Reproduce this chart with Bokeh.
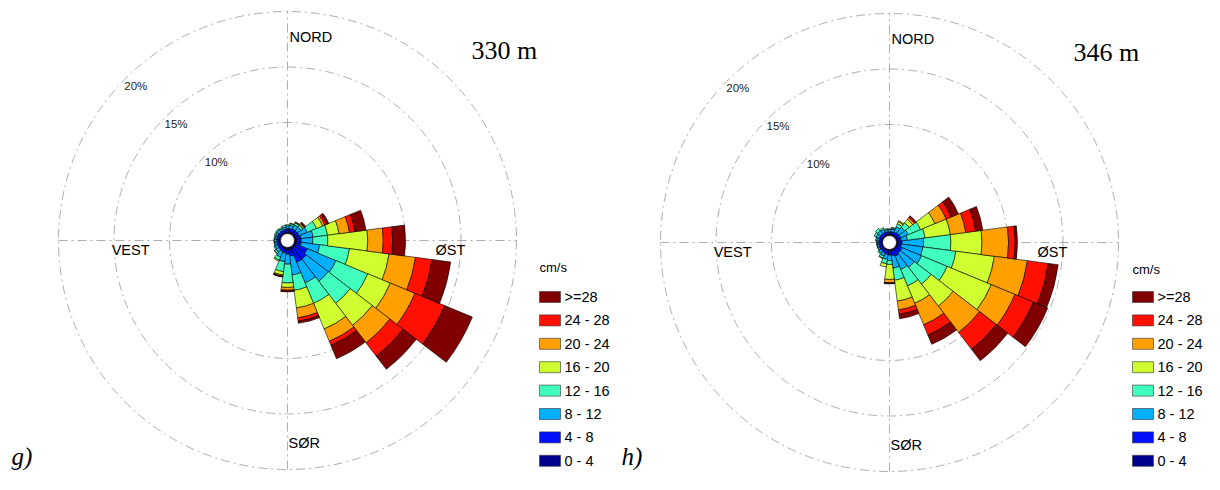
import numpy as np
from bokeh.plotting import figure
from bokeh.models import Range1d
from bokeh.embed import file_html
from bokeh.resources import INLINE
from bokeh.core.properties import value

# ---------------- data ----------------
directions = list(range(0, 360, 15))  # compass bearing of each sector (deg)
speed_classes = ["0 - 4", "4 - 8", "8 - 12", "12 - 16", "16 - 20", "20 - 24", "24 - 28", ">=28"]
class_colors = ["#00008F", "#0010FF", "#00AFFF", "#40FFBF", "#CFFF30", "#FF9F00", "#FF1000", "#800000"]
ring_pcts = [10, 15, 20]
ring_labels = ["10%", "15%", "20%"]
compass_names = ["NORD", "ØST", "SØR", "VEST"]

# g) 330 m : frequency (%) per speed class for each direction (0,15,...,345)
g_0_4 = [0.15, 0.15, 0.20, 0.20, 0.20, 0.20, 0.20, 0.20, 0.20, 0.25, 0.25, 0.25,
         0.20, 0.20, 0.15, 0.15, 0.12, 0.12, 0.12, 0.12, 0.12, 0.12, 0.12, 0.12]
g_4_8 = [0.30, 0.30, 0.30, 0.30, 0.30, 0.40, 0.40, 0.40, 1.10, 1.25, 1.25, 0.55,
         0.40, 0.30, 0.30, 0.25, 0.23, 0.23, 0.23, 0.23, 0.23, 0.23, 0.23, 0.28]
g_8_12 = [0.25, 0.30, 0.40, 0.40, 0.80, 1.10, 1.05, 1.70, 2.80, 2.50, 2.00, 1.70,
          0.90, 0.80, 0.55, 0.30, 0.25, 0.20, 0.20, 0.15, 0.20, 0.25, 0.20, 0.20]
g_12_16 = [0.10, 0.15, 0.20, 0.20, 0.90, 1.30, 1.35, 2.70, 3.10, 2.50, 2.00, 1.40,
           1.70, 0.90, 0.30, 0.15, 0.10, 0.05, 0.05, 0.10, 0.10, 0.10, 0.10, 0.15]
g_16_20 = [0.00, 0.05, 0.05, 0.10, 0.60, 1.05, 3.60, 3.60, 2.20, 2.50, 2.50, 1.60,
           0.40, 0.30, 0.10, 0.05, 0.00, 0.00, 0.00, 0.00, 0.00, 0.00, 0.00, 0.00]
g_20_24 = [0.00, 0.00, 0.05, 0.10, 0.20, 0.95, 1.40, 2.40, 2.40, 2.00, 1.20, 0.90,
           0.25, 0.10, 0.00, 0.00, 0.00, 0.00, 0.00, 0.00, 0.00, 0.00, 0.00, 0.00]
g_24_28 = [0.00, 0.00, 0.00, 0.05, 0.20, 0.50, 0.85, 1.50, 2.90, 1.50, 0.40, 0.30,
           0.10, 0.05, 0.00, 0.00, 0.00, 0.00, 0.00, 0.00, 0.00, 0.00, 0.00, 0.00]
g_28_up = [0.00, 0.00, 0.00, 0.10, 0.20, 1.00, 1.15, 1.70, 2.70, 1.50, 1.30, 0.20,
           0.05, 0.05, 0.00, 0.00, 0.00, 0.00, 0.00, 0.00, 0.00, 0.00, 0.00, 0.00]

# h) 346 m
h_0_4 = [0.12, 0.12, 0.15, 0.15, 0.15, 0.15, 0.15, 0.15, 0.15, 0.15, 0.15, 0.15,
         0.15, 0.15, 0.12, 0.12, 0.12, 0.12, 0.12, 0.12, 0.12, 0.12, 0.12, 0.12]
h_4_8 = [0.23, 0.23, 0.25, 0.30, 0.30, 0.30, 0.35, 0.30, 0.45, 0.45, 0.55, 0.45,
         0.35, 0.30, 0.28, 0.23, 0.23, 0.23, 0.23, 0.23, 0.25, 0.25, 0.25, 0.23]
h_8_12 = [0.20, 0.25, 0.50, 0.65, 0.75, 0.55, 1.95, 1.95, 1.90, 1.60, 1.30, 1.10,
          0.50, 0.45, 0.30, 0.25, 0.15, 0.15, 0.15, 0.20, 0.30, 0.35, 0.30, 0.20]
h_12_16 = [0.05, 0.10, 0.30, 0.50, 1.20, 1.60, 2.45, 3.00, 2.50, 1.90, 1.60, 1.10,
           0.35, 0.40, 0.20, 0.10, 0.05, 0.05, 0.05, 0.10, 0.20, 0.25, 0.15, 0.10]
h_16_20 = [0.00, 0.05, 0.20, 0.40, 1.40, 2.30, 2.80, 3.50, 4.30, 2.50, 1.70, 1.90,
           1.35, 0.30, 0.05, 0.00, 0.00, 0.00, 0.00, 0.00, 0.00, 0.00, 0.00, 0.00]
h_20_24 = [0.00, 0.00, 0.10, 0.20, 1.10, 1.40, 2.40, 3.00, 2.30, 3.00, 2.10, 0.80,
           0.30, 0.00, 0.00, 0.00, 0.00, 0.00, 0.00, 0.00, 0.00, 0.00, 0.00, 0.00]
h_24_28 = [0.00, 0.00, 0.00, 0.15, 0.50, 0.90, 0.60, 1.90, 1.80, 1.90, 1.00, 0.40,
           0.05, 0.00, 0.00, 0.00, 0.00, 0.00, 0.00, 0.00, 0.00, 0.00, 0.00, 0.00]
h_28_up = [0.00, 0.00, 0.00, 0.05, 0.70, 0.65, 0.20, 0.90, 1.40, 1.30, 0.90, 0.40,
           0.05, 0.00, 0.00, 0.00, 0.00, 0.00, 0.00, 0.00, 0.00, 0.00, 0.00, 0.00]

g_series = [g_0_4, g_4_8, g_8_12, g_12_16, g_16_20, g_20_24, g_24_28, g_28_up]
h_series = [h_0_4, h_4_8, h_8_12, h_12_16, h_16_20, h_20_24, h_24_28, h_28_up]

# ---------------- layout ----------------
W, H = 1204, 474
PAGE_H = 490
R0 = 7.0      # radius of the white centre hole (px)
K = 11.1      # px per percent
SECTOR = 15.0
SANS = value("Liberation Sans")
SERIF = value("Liberation Serif")


def Y(ry):
    return PAGE_H - ry


def rad(pct):
    return R0 + K * np.asarray(pct, dtype=float)


p = figure(width=W, height=H, output_backend="svg", toolbar_location=None,
           x_range=Range1d(1, 1 + W), y_range=Range1d(PAGE_H - 1 - H, PAGE_H - 1),
           min_border=0, outline_line_color=None)
p.axis.visible = False
p.grid.visible = False
p.background_fill_color = "white"
p.border_fill_color = "white"


def draw_rose(cx, cy_ref, series, title, letter, letter_x, leg_x):
    cy = Y(cy_ref)
    rmax = float(rad(ring_pcts[-1]))
    grid_style = dict(line_color="#8c8c8c", line_width=0.7, line_dash="9 4 2 4")
    # grid circles
    p.circle(x=[cx] * len(ring_pcts), y=[cy] * len(ring_pcts), radius=list(rad(ring_pcts)),
             fill_color=None, **grid_style)
    # cross
    p.segment(x0=[cx - rmax, cx], y0=[cy, cy - rmax], x1=[cx + rmax, cx], y1=[cy, cy + rmax],
              **grid_style)
    # ring labels
    lab_ang = np.radians(90 - 313.5)
    rr = rad(ring_pcts) - 4
    p.text(x=list(cx + rr * np.cos(lab_ang)), y=list(cy + rr * np.sin(lab_ang)), text=ring_labels,
           text_font=SANS, text_font_size="11.5px", text_align="left", text_baseline="middle",
           text_color="#222222")
    # stacked sectors
    cum = np.zeros(len(directions))
    for ci, freqs in enumerate(series):
        f = np.asarray(freqs, dtype=float)
        inner = cum.copy()
        cum = cum + f
        mask = f > 0
        d = np.asarray(directions, dtype=float)[mask]
        p.annular_wedge(x=cx, y=cy,
                        inner_radius=list(rad(inner[mask])), outer_radius=list(rad(cum[mask])),
                        start_angle=list(np.radians(90 - d - SECTOR / 2)),
                        end_angle=list(np.radians(90 - d + SECTOR / 2)),
                        fill_color=class_colors[ci], line_color="black", line_width=0.6)
    # centre hole
    p.circle(x=[cx], y=[cy], radius=R0, fill_color="white", line_color="black", line_width=0.8)
    # compass names
    fs = "14.5px"
    p.text(x=[cx + 2], y=[cy + 204], text=[compass_names[0]], text_font=SANS, text_font_size=fs,
           text_align="left", text_baseline="middle", text_color="black")
    p.text(x=[cx + 148], y=[cy - 1], text=[compass_names[1]], text_font=SANS, text_font_size=fs,
           text_align="left", text_baseline="top", text_color="black")
    p.text(x=[cx + 1], y=[cy - 202], text=[compass_names[2]], text_font=SANS, text_font_size=fs,
           text_align="left", text_baseline="middle", text_color="black")
    p.text(x=[cx - 138], y=[cy - 1], text=[compass_names[3]], text_font=SANS, text_font_size=fs,
           text_align="right", text_baseline="top", text_color="black")
    # title
    p.text(x=[cx + 184], y=[cy + 190], text=[title], text_font=SERIF, text_font_size="26px",
           text_align="left", text_baseline="middle", text_color="black")
    # panel letter (kept inside the visible area)
    p.text(x=[letter_x], y=[Y(457)], text=[letter], text_font=SERIF, text_font_size="25px",
           text_font_style="italic", text_align="left", text_baseline="middle",
           text_color="black")
    # legend
    p.text(x=[leg_x], y=[cy - 27], text=["cm/s"], text_font=SANS, text_font_size="13px",
           text_align="left", text_baseline="middle", text_color="black")
    n = len(speed_classes)
    ly = [Y(297.5 + 23.4 * i) for i in range(n)]
    order = list(range(n - 1, -1, -1))
    p.rect(x=[leg_x + 10.5] * n, y=ly, width=21, height=11,
           fill_color=[class_colors[i] for i in order], line_color="#333333", line_width=0.6)
    p.text(x=[leg_x + 25] * n, y=ly, text=[speed_classes[i] for i in order], text_font=SANS,
           text_font_size="14.5px", text_align="left", text_baseline="middle", text_color="black")


draw_rose(288, 241, g_series, "330 m", "g)", 12, 540)
draw_rose(890, 243, h_series, "346 m", "h)", 622, 1133)

open("out.html", "w").write(file_html(p, INLINE))
